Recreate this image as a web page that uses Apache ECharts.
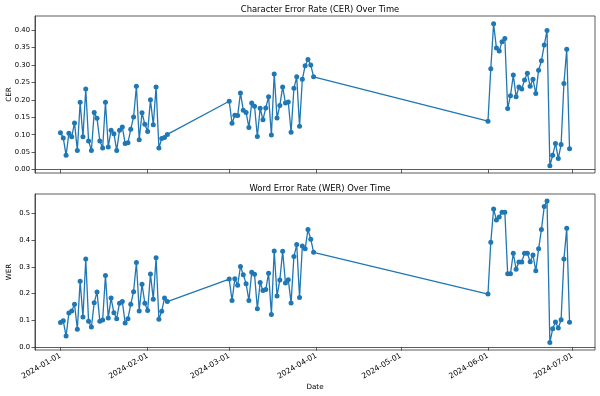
<!DOCTYPE html>
<html>
<head>
	<meta charset="utf-8">
	<title>CER / WER Over Time</title>
	<script src="https://cdn.jsdelivr.net/npm/echarts@6.0.0/dist/echarts.min.js"></script>
	<style>
		body { margin: 0; background: #fff; }
		#chart { width: 600px; height: 396px; }
	</style>
</head>
<body>
<div id="chart"></div>
<script>
	// dates of the three recording periods
	var janFebDates = [
		'2024-01-01','2024-01-02','2024-01-03','2024-01-04','2024-01-05','2024-01-06','2024-01-07','2024-01-08',
		'2024-01-09','2024-01-10','2024-01-11','2024-01-12','2024-01-13','2024-01-14','2024-01-15','2024-01-16',
		'2024-01-17','2024-01-18','2024-01-19','2024-01-20','2024-01-21','2024-01-22','2024-01-23','2024-01-24',
		'2024-01-25','2024-01-26','2024-01-27','2024-01-28','2024-01-29','2024-01-30','2024-01-31',
		'2024-02-01','2024-02-02','2024-02-03','2024-02-04','2024-02-05','2024-02-06','2024-02-07','2024-02-08'
	];
	var marDates = [
		'2024-03-01','2024-03-02','2024-03-03','2024-03-04','2024-03-05','2024-03-06','2024-03-07','2024-03-08',
		'2024-03-09','2024-03-10','2024-03-11','2024-03-12','2024-03-13','2024-03-14','2024-03-15','2024-03-16',
		'2024-03-17','2024-03-18','2024-03-19','2024-03-20','2024-03-21','2024-03-22','2024-03-23','2024-03-24',
		'2024-03-25','2024-03-26','2024-03-27','2024-03-28','2024-03-29','2024-03-30','2024-03-31'
	];
	var junDates = [
		'2024-06-01','2024-06-02','2024-06-03','2024-06-04','2024-06-05','2024-06-06','2024-06-07','2024-06-08',
		'2024-06-09','2024-06-10','2024-06-11','2024-06-12','2024-06-13','2024-06-14','2024-06-15','2024-06-16',
		'2024-06-17','2024-06-18','2024-06-19','2024-06-20','2024-06-21','2024-06-22','2024-06-23','2024-06-24',
		'2024-06-25','2024-06-26','2024-06-27','2024-06-28','2024-06-29','2024-06-30'
	];

	var cerJanFeb = [0.106,0.091,0.041,0.104,0.094,0.134,0.055,0.193,0.094,0.231,0.082,0.055,0.164,0.147,0.082,0.062,
		0.193,0.065,0.113,0.103,0.055,0.113,0.122,0.075,0.077,0.116,0.151,0.239,0.086,0.163,0.130,0.109,0.200,0.129,
		0.237,0.062,0.089,0.092,0.101];
	var cerMar = [0.196,0.133,0.156,0.155,0.220,0.170,0.164,0.121,0.191,0.182,0.095,0.176,0.143,0.177,0.209,0.099,
		0.274,0.148,0.184,0.237,0.191,0.194,0.107,0.233,0.266,0.124,0.259,0.298,0.316,0.300,0.266];
	var cerJun = [0.139,0.289,0.418,0.349,0.340,0.367,0.376,0.175,0.212,0.271,0.209,0.237,0.231,0.257,0.276,0.239,
		0.259,0.218,0.285,0.312,0.357,0.399,0.011,0.041,0.075,0.032,0.072,0.247,0.345,0.060];

	var werJanFeb = [0.092,0.098,0.041,0.127,0.135,0.160,0.067,0.246,0.112,0.329,0.096,0.075,0.166,0.206,0.096,0.101,
		0.267,0.109,0.183,0.128,0.106,0.164,0.170,0.090,0.106,0.160,0.207,0.316,0.135,0.235,0.164,0.137,0.273,0.179,
		0.334,0.104,0.134,0.183,0.170];
	var werMar = [0.254,0.174,0.255,0.231,0.301,0.270,0.237,0.174,0.280,0.272,0.143,0.241,0.211,0.215,0.276,0.122,
		0.359,0.191,0.251,0.358,0.239,0.252,0.165,0.338,0.383,0.185,0.378,0.367,0.439,0.403,0.354];
	var werJun = [0.198,0.392,0.516,0.475,0.486,0.504,0.504,0.274,0.274,0.351,0.291,0.318,0.318,0.351,0.351,0.319,
		0.344,0.285,0.367,0.439,0.525,0.546,0.017,0.068,0.094,0.071,0.102,0.329,0.444,0.093];

	var monthTicks = ['2024-01-01','2024-02-01','2024-03-01','2024-04-01','2024-05-01','2024-06-01','2024-07-01'];
	var cerTicks = [0, 0.05, 0.10, 0.15, 0.20, 0.25, 0.30, 0.35, 0.40];
	var werTicks = [0, 0.1, 0.2, 0.3, 0.4, 0.5];

	function ts(s) { return new Date(s + 'T00:00:00').getTime(); }
	function pad(n) { return n < 10 ? '0' + n : '' + n; }
	function fmtDate(v) {
		var d = new Date(v);
		return d.getFullYear() + '-' + pad(d.getMonth() + 1) + '-' + pad(d.getDate());
	}

	var dates = janFebDates.concat(marDates, junDates);
	function pairs(vals) {
		return dates.map(function (d, i) { return [ts(d), vals[i]]; });
	}
	var cer = pairs(cerJanFeb.concat(cerMar, cerJun));
	var wer = pairs(werJanFeb.concat(werMar, werJun));

	var span = ts(dates[dates.length - 1]) - ts(dates[0]);
	var xMin = ts(dates[0]) - span * 0.05;
	var xMax = ts(dates[dates.length - 1]) + span * 0.05;
	var tickTs = monthTicks.map(ts);

	var font = 'DejaVu Sans';
	var ink = '#333';
	var blue = '#1f77b4';

	// value axis holding timestamps, so month ticks can be placed exactly
	function xAxis(idx, labels) {
		return {
			type: 'value', gridIndex: idx, min: xMin, max: xMax, scale: true,
			splitLine: { show: false },
			axisLine: { show: true, lineStyle: { color: ink, width: 0.8 } },
			axisTick: { show: true, length: 3.5, lineStyle: { color: ink, width: 0.8 }, customValues: tickTs },
			axisLabel: labels ? {
				show: true, customValues: tickTs, formatter: fmtDate, rotate: 30,
				fontSize: 7.6, color: '#000', fontFamily: font, margin: 5
			} : { show: false },
			name: labels ? 'Date' : '', nameLocation: 'middle', nameGap: 34, nameMoveOverlap: false,
			nameTextStyle: { fontSize: 7.2, color: '#000', fontFamily: font }
		};
	}
	function yAxis(idx, name, min, max, ticks, digits) {
		return {
			type: 'value', gridIndex: idx, min: min, max: max,
			splitLine: { show: false },
			axisLine: { show: true, lineStyle: { color: ink, width: 0.8 } },
			axisTick: { show: true, length: 3.5, lineStyle: { color: ink, width: 0.8 }, customValues: ticks },
			axisLabel: {
				customValues: ticks, fontSize: 6.8, color: '#000', fontFamily: font, margin: 5,
				formatter: function (v) { return v.toFixed(digits); }
			},
			name: name, nameLocation: 'middle', nameGap: 22, nameMoveOverlap: false,
			nameTextStyle: { fontSize: 7.2, color: '#000', fontFamily: font }
		};
	}
	function series(idx, data) {
		return {
			type: 'line', xAxisIndex: idx, yAxisIndex: idx, data: data,
			symbol: 'circle', symbolSize: 5, showSymbol: true,
			itemStyle: { color: blue }, lineStyle: { color: blue, width: 1.3 }
		};
	}

	var chart = echarts.init(document.getElementById('chart'), null, { renderer: 'canvas' });
	chart.setOption({
		animation: false,
		backgroundColor: '#fff',
		title: [
			{ text: 'Character Error Rate (CER) Over Time', left: 315, top: 1, textAlign: 'center',
				textStyle: { fontSize: 8.4, fontWeight: 'normal', color: '#000', fontFamily: font } },
			{ text: 'Word Error Rate (WER) Over Time', left: 315, top: 180, textAlign: 'center',
				textStyle: { fontSize: 8.4, fontWeight: 'normal', color: '#000', fontFamily: font } }
		],
		grid: [
			{ left: 35, right: 5, top: 16, height: 157, show: true, borderColor: ink, borderWidth: 0.8,
				outerBoundsMode: 'none', containLabel: false },
			{ left: 35, right: 5, top: 194, height: 156, show: true, borderColor: ink, borderWidth: 0.8,
				outerBoundsMode: 'none', containLabel: false }
		],
		xAxis: [xAxis(0, false), xAxis(1, true)],
		yAxis: [
			yAxis(0, 'CER', -0.0097, 0.4405, cerTicks, 2),
			yAxis(1, 'WER', -0.011, 0.572, werTicks, 1)
		],
		series: [series(0, cer), series(1, wer)]
	});
</script>
</body>
</html>
